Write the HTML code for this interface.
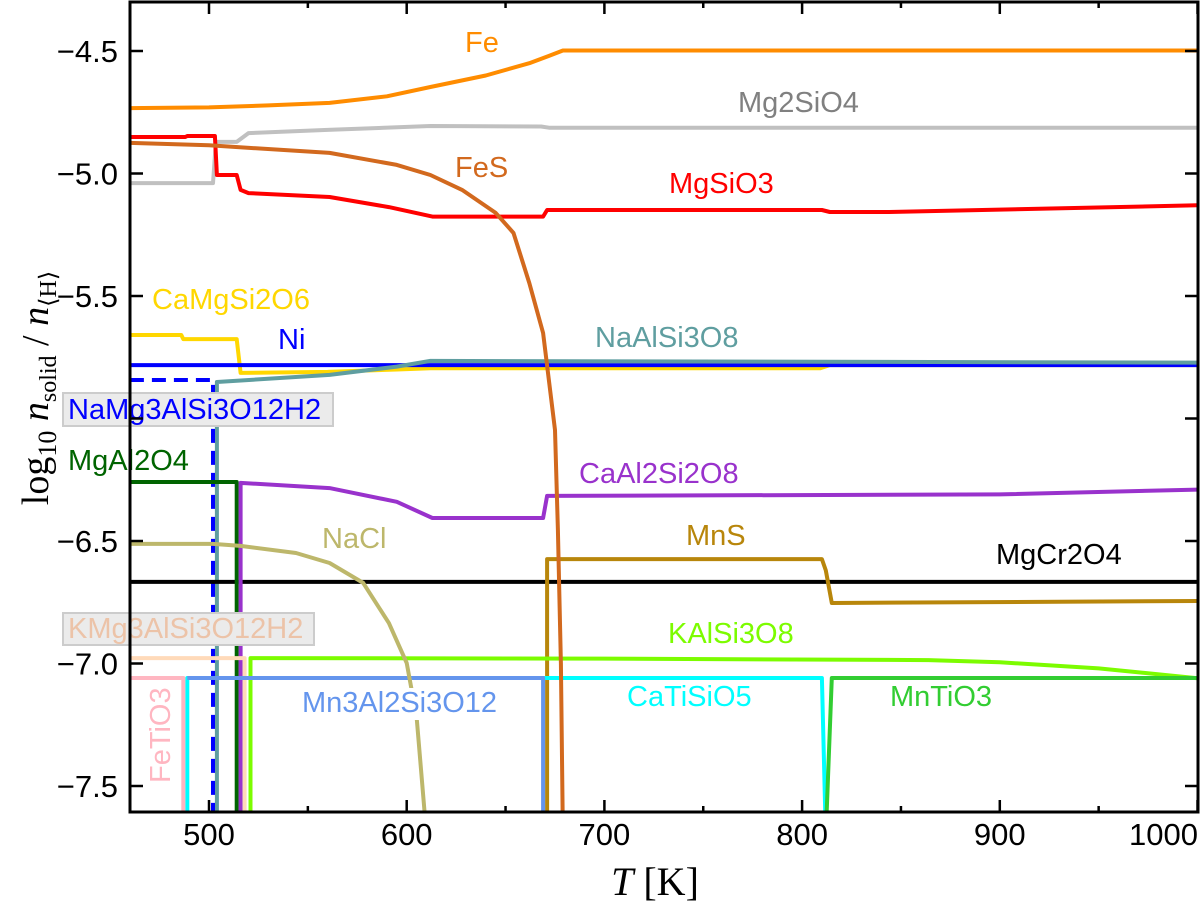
<!DOCTYPE html>
<html><head><meta charset="utf-8"><style>
html,body{margin:0;padding:0;background:#fff;}
svg{display:block;font-family:"Liberation Sans",sans-serif;}
</style></head><body>
<svg id="chart" width="1200" height="907" viewBox="0 0 1200 907" xmlns="http://www.w3.org/2000/svg">
<defs><clipPath id="plotclip"><rect x="130" y="2" width="1068" height="810"/></clipPath></defs>
<g id="lines" clip-path="url(#plotclip)"></g>
<g id="labels"></g>
<g id="axes"></g>
</svg>
<script>
const xTicks = [500, 600, 700, 800, 900, 1000];
const xMinorTicks = [550, 650, 750, 850, 950];
const yTicks = [-4.5, -5.0, -5.5, -6.0, -6.5, -7.0, -7.5];
const yTickLabels = ["\u22124.5", "\u22125.0", "\u22125.5", "\u22126.0", "\u22126.5", "\u22127.0", "\u22127.5"];
const yLabeled = [true, true, true, false, true, true, true];

const feData = [[460,-4.733],[500,-4.73],[530,-4.722],[561,-4.712],[590,-4.685],[612,-4.647],[640,-4.6],[662,-4.55],[672,-4.52],[679,-4.498],[1000,-4.498]];
const mg2sio4Data = [[460,-5.039],[502,-5.039],[503.5,-4.871],[514,-4.871],[520,-4.835],[560,-4.822],[612,-4.806],[668,-4.808],[672,-4.813],[1000,-4.813]];
const mgsio3Data = [[460,-4.851],[488,-4.851],[489,-4.847],[503,-4.847],[504,-5.006],[514,-5.006],[516,-5.067],[520,-5.08],[561,-5.096],[591,-5.137],[613,-5.176],[669,-5.176],[671,-5.149],[810,-5.149],[814,-5.157],[844,-5.157],[1000,-5.13]];
const fesData = [[460,-4.875],[500,-4.885],[561,-4.916],[595,-4.965],[612,-5.006],[628,-5.067],[645,-5.161],[654,-5.243],[662,-5.447],[669,-5.651],[675,-6.047],[676.5,-6.455],[678,-7.0],[679,-7.7]];
const camgsi2o6Data = [[460,-5.659],[486,-5.659],[487,-5.676],[514,-5.676],[516,-5.814],[560,-5.81],[595,-5.8],[612,-5.795],[809,-5.795],[814,-5.782],[1000,-5.782]];
const niData = [[460,-5.782],[1000,-5.782]];
const naalsi3o8Data = [[504,-7.7],[504,-5.851],[561,-5.822],[595,-5.788],[612,-5.765],[1000,-5.772]];
const namg3Data = [[460,-5.843],[502,-5.843],[502,-7.7]];
const mgal2o4Data = [[460,-6.259],[514,-6.259],[514,-7.7]];
const caal2si2o8Data = [[516,-7.7],[516,-6.263],[561,-6.284],[595,-6.34],[613,-6.406],[669,-6.406],[671,-6.316],[900,-6.31],[1000,-6.29]];
const naclData = [[460,-6.512],[502,-6.512],[516,-6.52],[544,-6.549],[561,-6.59],[578,-6.671],[591,-6.835],[600,-6.998],[605,-7.218],[610,-7.7]];
const mgcr2o4Data = [[460,-6.667],[1000,-6.667]];
const mnsData = [[671,-7.7],[671,-6.574],[810,-6.574],[812,-6.62],[815,-6.753],[1000,-6.745]];
const kmg3Data = [[460,-6.978],[518,-6.978],[518,-7.7]];
const kalsi3o8Data = [[521,-7.7],[521,-6.978],[700,-6.98],[864,-6.986],[900,-6.995],[950,-7.02],[1000,-7.06]];
const catisio5Data = [[489,-7.7],[489,-7.059],[810,-7.059],[812,-7.7]];
const mn3Data = [[489,-7.059],[669,-7.059],[669,-7.7]];
const fetio3Data = [[460,-7.059],[487,-7.059],[487,-7.7]];
const mntio3Data = [[812,-7.7],[815,-7.059],[1000,-7.059]];

function xs(T){ return 209 + (T - 500) * 1.977; }
function ys(v){ return 51 + (-4.5 - v) * 245; }

const NS = "http://www.w3.org/2000/svg";
const linesG = document.getElementById('lines');
const labelsG = document.getElementById('labels');
const axesG = document.getElementById('axes');

function drawSeries(data, color, name, dash){
  const p = document.createElementNS(NS, 'path');
  p.setAttribute('d', data.map((d,i)=>(i?'L':'M')+xs(d[0]).toFixed(1)+' '+ys(d[1]).toFixed(1)).join(' '));
  p.setAttribute('fill','none');
  p.setAttribute('stroke',color);
  p.setAttribute('stroke-width','4');
  p.setAttribute('stroke-linejoin','round');
  if (dash) p.setAttribute('stroke-dasharray', dash);
  
  
  linesG.appendChild(p);
}

drawSeries(feData, '#ff8c00', 'fe-line');
drawSeries(mg2sio4Data, '#c0c0c0', 'mg2sio4-line');
drawSeries(mgsio3Data, '#ff0000', 'mgsio3-line');
drawSeries(camgsi2o6Data, '#ffd700', 'camgsi2o6-line');
drawSeries(niData, '#0000ff', 'ni-line');
drawSeries(naalsi3o8Data, '#5f9ea0', 'naalsi3o8-line');
drawSeries(namg3Data, '#0000ff', 'namg3alsi3o12h2-line', '14 8');
drawSeries(mgcr2o4Data, '#000000', 'mgcr2o4-line');
drawSeries(mgal2o4Data, '#006400', 'mgal2o4-line');
drawSeries(caal2si2o8Data, '#9932cc', 'caal2si2o8-line');
drawSeries(mnsData, '#b8860b', 'mns-line');
drawSeries(kmg3Data, '#ffdab9', 'kmg3alsi3o12h2-line');
drawSeries(kalsi3o8Data, '#7cfc00', 'kalsi3o8-line');
drawSeries(catisio5Data, '#00ffff', 'catisio5-line');
drawSeries(mn3Data, '#6495ed', 'mn3al2si3o12-line');
drawSeries(fetio3Data, '#ffb6c1', 'fetio3-line');
drawSeries(mntio3Data, '#32cd32', 'mntio3-line');
drawSeries(naclData, '#bdb76b', 'nacl-line');
drawSeries(fesData, '#d2691e', 'fes-line');

function label(text, x, y, color, name, box, rotate){
  if (box){
    const r = document.createElementNS(NS,'rect');
    r.setAttribute('x', box[0]); r.setAttribute('y', box[1]);
    r.setAttribute('width', box[2]); r.setAttribute('height', box[3]);
    r.setAttribute('fill', box[4]); r.setAttribute('stroke', box[5]); r.setAttribute('stroke-width','2');
    
    
    labelsG.appendChild(r);
  }
  const t = document.createElementNS(NS,'text');
  t.setAttribute('x', x); t.setAttribute('y', y);
  t.setAttribute('fill', color);
  t.setAttribute('font-size', '29');
  if (rotate) t.setAttribute('transform', 'rotate(-90 '+x+' '+y+')');
  t.textContent = text;
  
  
  labelsG.appendChild(t);
}
label('Fe', 465, 52, '#ff8c00', 'fe-label');
label('Mg2SiO4', 738, 112, '#808080', 'mg2sio4-label');
label('FeS', 455, 177, '#d2691e', 'fes-label');
label('MgSiO3', 669, 193, '#ff0000', 'mgsio3-label');
label('CaMgSi2O6', 152, 309, '#ffd700', 'camgsi2o6-label');
label('Ni', 278, 349, '#0000ff', 'ni-label');
label('NaAlSi3O8', 595, 347, '#5f9ea0', 'naalsi3o8-label');
label('NaMg3AlSi3O12H2', 68, 419, '#0000ff', 'namg3alsi3o12h2-label', [63,393,270,33,'#ebebeb','#cccccc']);
label('MgAl2O4', 68, 470, '#006400', 'mgal2o4-label');
label('CaAl2Si2O8', 579, 483, '#9932cc', 'caal2si2o8-label');
label('NaCl', 322, 548, '#bdb76b', 'nacl-label');
label('MnS', 686, 545, '#b8860b', 'mns-label');
label('MgCr2O4', 996, 564, '#000000', 'mgcr2o4-label');
label('KMg3AlSi3O12H2', 68, 638, '#ecc3a8', 'kmg3alsi3o12h2-label', [63,613,251,32,'#ebebeb','#cccccc']);
label('KAlSi3O8', 668, 643, '#7cfc00', 'kalsi3o8-label');
label('Mn3Al2Si3O12', 302, 712, '#6495ed', 'mn3al2si3o12-label', [298,688,212,32,'#ffffff','none']);
label('CaTiSiO5', 627, 706, '#00ffff', 'catisio5-label');
label('MnTiO3', 890, 706, '#32cd32', 'mntio3-label');
label('FeTiO3', 170, 783, '#ffb6c1', 'fetio3-label', null, true);

const frame = document.createElementNS(NS,'rect');
frame.setAttribute('x','130'); frame.setAttribute('y','2');
frame.setAttribute('width','1068'); frame.setAttribute('height','810');
frame.setAttribute('fill','none'); frame.setAttribute('stroke','#000'); frame.setAttribute('stroke-width','3');


axesG.appendChild(frame);

function tick(x1,y1,x2,y2,name){
  const l = document.createElementNS(NS,'line');
  l.setAttribute('x1',x1); l.setAttribute('y1',y1); l.setAttribute('x2',x2); l.setAttribute('y2',y2);
  l.setAttribute('stroke','#000'); l.setAttribute('stroke-width','2.5');
  
  
  axesG.appendChild(l);
}
xTicks.forEach(T=>{
  const x = xs(T);
  tick(x,812,x,800,'x-tick'); tick(x,2,x,14,'x-tick-top');
  const t = document.createElementNS(NS,'text');
  const edge = x > 1150;
  t.setAttribute('x', edge ? 1198 : x); t.setAttribute('y', 845);
  t.setAttribute('text-anchor', edge ? 'end' : 'middle'); t.setAttribute('font-size','31');
  t.textContent = T;
  
  
  axesG.appendChild(t);
});
xMinorTicks.forEach(T=>{
  const x = xs(T);
  tick(x,812,x,806,'x-minor-tick'); tick(x,2,x,8,'x-minor-tick-top');
});
yTicks.forEach((v,i)=>{
  const y = ys(v);
  tick(130,y,143,y,'y-tick'); tick(1198,y,1185,y,'y-tick-right');
  if (!yLabeled[i]) return;
  const t = document.createElementNS(NS,'text');
  t.setAttribute('x', 118); t.setAttribute('y', y+11);
  t.setAttribute('text-anchor','end'); t.setAttribute('font-size','31');
  t.textContent = yTickLabels[i];
  
  
  axesG.appendChild(t);
});
</script>
<svg style="position:absolute;left:0;top:0" width="1200" height="907">
<text x="655" y="895" text-anchor="middle" font-family="Liberation Serif, serif" font-size="40"><tspan font-style="italic">T</tspan> [K]</text>
<text transform="translate(48 388) rotate(-90)" text-anchor="middle" font-family="Liberation Serif, serif" font-size="38">log<tspan font-size="26" dy="8">10</tspan><tspan dy="-8"> </tspan><tspan font-style="italic">n</tspan><tspan font-size="24" dy="8">solid</tspan><tspan dy="-8"> / </tspan><tspan font-style="italic">n</tspan><tspan font-size="24" dy="8">⟨H⟩</tspan></text>
</svg>
</body></html>
